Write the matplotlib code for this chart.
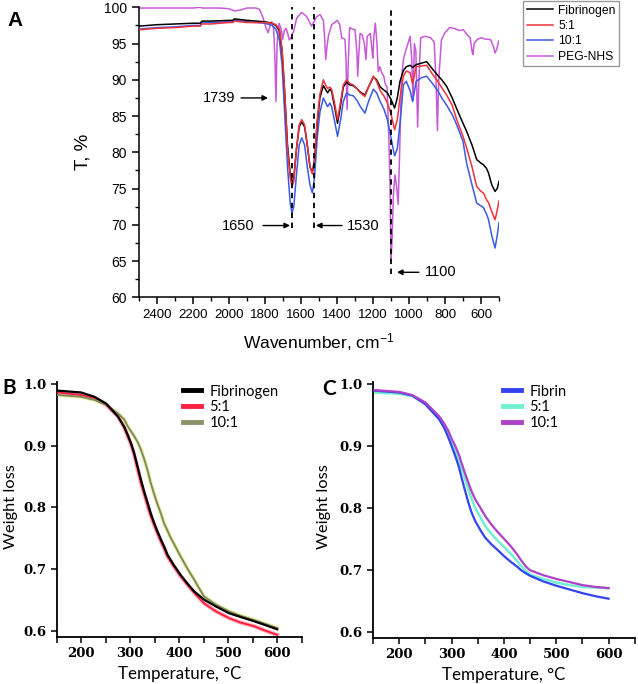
import matplotlib
matplotlib.use('Agg')
import matplotlib.pyplot as plt
from matplotlib.ticker import MultipleLocator
from matplotlib.lines import Line2D

plt.rcParams['mathtext.default'] = 'regular'

# ---------------- Panel A: FTIR data ----------------
wn = [2500, 2400, 2300, 2200, 2160, 2150, 2100, 2000, 1980, 1970, 1900, 1800, 1760, 1740,
      1720, 1705, 1690, 1675, 1660, 1650, 1640, 1625, 1610, 1596, 1580, 1565, 1550, 1537,
      1525, 1510, 1495, 1476, 1462, 1452, 1440, 1430, 1415, 1397, 1380, 1365, 1347, 1330,
      1310, 1290, 1270, 1245, 1225, 1198, 1180, 1160, 1140, 1120, 1100, 1080, 1065, 1050,
      1031, 1015, 994, 980, 960, 930, 902, 870, 840, 818, 791, 760, 735, 700, 680, 650,
      624, 600, 587, 570, 559, 540, 522, 510, 500]
t_fibrinogen = [97.4, 97.6, 97.7, 97.8, 97.8, 98.1, 98.1, 98.2, 98.2, 98.4, 98.2, 98.0, 97.8, 97.5,
                96.8, 94.0, 88.0, 81.0, 77.0, 75.8, 76.5, 80.5, 83.5, 84.2, 83.5, 81.0, 78.0, 77.2,
                79.0, 84.0, 87.5, 89.2, 88.6, 88.2, 88.7, 88.4, 86.5, 84.0, 86.5, 89.0, 89.7, 89.3,
                89.2, 88.8, 88.3, 87.9, 89.0, 90.4, 90.0, 89.0, 88.6, 88.2, 87.3, 86.1, 87.5, 89.8,
                91.3, 91.8, 92.0, 91.7, 92.1, 92.3, 92.5, 91.5, 90.6, 90.0, 89.1, 87.5, 86.0, 84.0,
                82.9, 81.0, 79.0, 78.5, 78.3, 77.8, 77.2, 75.5, 74.6, 75.0, 76.0]
t_51 = [96.9, 97.1, 97.2, 97.4, 97.4, 97.7, 97.7, 97.9, 97.9, 98.1, 97.9, 97.9, 97.8, 97.6,
        97.0, 94.2, 88.0, 80.5, 76.5, 75.3, 76.0, 80.5, 83.8, 84.5, 83.8, 81.0, 78.0, 77.0,
        79.0, 84.5, 88.0, 90.0, 89.2, 88.8, 89.0, 88.7, 87.0, 84.5, 87.0, 89.3, 90.0, 89.5,
        89.3, 88.8, 88.2, 87.7, 89.0, 90.5, 89.8, 88.5, 87.8, 86.8, 85.3, 83.1, 84.5, 87.5,
        90.5, 91.2, 91.0, 89.5, 91.8, 91.9, 92.0, 90.8, 89.8, 88.9, 87.9, 86.5, 84.5, 82.2,
        80.6, 78.0, 75.3, 74.6, 74.4, 73.5, 73.1, 71.8, 70.7, 72.0, 73.3]
t_101 = [97.0, 97.2, 97.3, 97.5, 97.5, 97.9, 97.9, 98.0, 98.0, 98.2, 98.0, 97.8, 97.5, 97.0,
         95.5, 92.0, 85.0, 78.0, 73.0, 71.6, 72.5, 77.0, 81.0, 82.0, 81.0, 78.0, 75.5, 74.4,
         76.5, 82.0, 85.5, 87.5, 86.8, 86.3, 86.8, 86.3, 84.5, 82.2, 84.5, 87.0, 88.2, 87.9,
         87.8, 87.2, 86.3, 85.4, 87.0, 88.7, 88.2, 87.0, 86.0, 84.5, 82.0, 79.5, 80.5, 84.0,
         89.3, 89.8, 88.5, 87.0, 89.8, 90.3, 90.5, 89.5, 88.5, 87.5, 86.5, 85.2, 83.8, 81.5,
         78.5, 75.5, 73.0, 72.6, 72.4, 71.5, 70.8, 68.5, 66.8, 68.5, 70.3]

wn_peg = [2500, 2300, 2200, 2160, 2150, 2050, 2000, 1970, 1940, 1900, 1850, 1830, 1810, 1795,
          1783, 1772, 1763, 1752, 1745, 1739, 1733, 1722, 1710, 1702, 1692, 1683, 1673, 1665,
          1655, 1640, 1624, 1596, 1568, 1541, 1513, 1494, 1476, 1468, 1463, 1456, 1448, 1430,
          1398, 1385, 1374, 1356, 1350, 1344, 1338, 1330, 1315, 1300, 1290, 1285, 1280, 1272,
          1260, 1248, 1239, 1232, 1215, 1205, 1201, 1195, 1187, 1178, 1171, 1162, 1152, 1140,
          1133, 1122, 1112, 1106, 1100, 1094, 1087, 1078, 1070, 1060, 1052, 1042, 1030, 1013,
          994, 985, 978, 970, 962, 952, 945, 935, 910, 880, 860, 850, 842, 835, 820, 800,
          775, 750, 720, 698, 680, 660, 650, 645, 638, 620, 597, 575, 560, 545, 530, 522,
          512, 500]
t_peg = [99.9, 99.9, 99.9, 100.0, 99.9, 99.9, 99.8, 99.5, 99.6, 99.9, 99.9, 99.7, 98.5, 97.2,
         96.5, 97.5, 98.0, 97.0, 93.0, 87.0, 95.0, 97.8, 97.0, 95.6, 96.8, 97.1, 96.3, 95.5,
         95.8, 96.8, 98.5, 99.3, 98.7, 97.4, 98.7, 99.0, 98.2, 95.5, 92.8, 94.5, 96.0, 97.6,
         98.2, 97.6, 95.8, 95.6, 93.0, 85.9, 92.0, 97.2, 97.0, 96.9, 94.0, 90.5, 93.0, 96.4,
         96.2, 95.0, 92.8, 96.0, 96.4, 94.0, 93.0, 96.0, 97.8, 95.0, 91.1, 91.8, 91.0, 90.5,
         89.5, 89.0, 82.0, 76.0, 65.0, 68.0, 74.0, 76.9, 75.5, 72.8, 80.0, 90.0, 93.0, 94.4,
         96.0, 93.0, 87.2, 95.0, 94.0, 83.5, 90.0, 95.8, 96.0, 95.8, 95.2, 90.0, 83.0, 90.0,
         95.5, 96.5, 97.2, 97.1, 96.8, 96.9, 96.3, 95.8, 94.0, 93.5, 95.0, 95.6, 95.8, 95.6,
         95.6, 95.5, 94.5, 93.7, 94.3, 95.4]

ir_labels = ['Fibrinogen', '5:1', '10:1', 'PEG-NHS']
peaks = [1739, 1650, 1530, 1100]

# ---------------- Panel B: TGA fibrinogen ----------------
temp_b = [152, 200, 227, 251, 275, 288, 295, 302, 308, 315, 322, 329, 336, 342, 349, 356,
          363, 370, 376, 390, 403, 417, 431, 451, 475, 502, 525, 553, 575, 600]
wb_fibrinogen = [0.989, 0.986, 0.979, 0.968, 0.947, 0.930, 0.917, 0.903, 0.888, 0.866, 0.844,
                 0.824, 0.806, 0.790, 0.774, 0.760, 0.747, 0.735, 0.723, 0.705, 0.690, 0.676,
                 0.663, 0.650, 0.639, 0.628, 0.622, 0.615, 0.609, 0.602]
wb_51 = [0.986, 0.982, 0.977, 0.966, 0.947, 0.929, 0.915, 0.901, 0.885, 0.862, 0.839,
         0.820, 0.801, 0.786, 0.771, 0.757, 0.744, 0.732, 0.720, 0.703, 0.688, 0.674,
         0.661, 0.644, 0.631, 0.620, 0.613, 0.607, 0.600, 0.593]
temp_b2 = [152, 200, 227, 251, 275, 288, 295, 305, 315, 322, 329, 336, 342, 349, 356, 363,
           369, 376, 383, 393, 403, 417, 431, 441, 451, 475, 502, 525, 553, 575, 600]
wb_101 = [0.982, 0.979, 0.974, 0.966, 0.952, 0.942, 0.931, 0.919, 0.906, 0.893, 0.877,
          0.858, 0.839, 0.821, 0.804, 0.789, 0.774, 0.762, 0.750, 0.735, 0.720, 0.700,
          0.682, 0.668, 0.655, 0.642, 0.631, 0.624, 0.617, 0.611, 0.604]
tga_b_labels = ['Fibrinogen', '5:1', '10:1']

# ---------------- Panel C: TGA fibrin ----------------
temp_c = [153, 200, 225, 250, 276, 286, 294, 300, 307, 314, 320, 326, 332, 338, 345, 355,
          364, 376, 389, 400, 414, 425, 433, 442, 450, 475, 500, 525, 550, 575, 600]
wc_fibrin = [0.989, 0.986, 0.981, 0.967, 0.943, 0.929, 0.913, 0.900, 0.884, 0.866, 0.846,
             0.827, 0.809, 0.793, 0.779, 0.764, 0.752, 0.741, 0.731, 0.722, 0.712, 0.705,
             0.699, 0.694, 0.690, 0.681, 0.674, 0.668, 0.662, 0.657, 0.653]
wc_51 = [0.986, 0.984, 0.980, 0.969, 0.946, 0.933, 0.919, 0.906, 0.892, 0.877, 0.862,
         0.846, 0.830, 0.815, 0.800, 0.785, 0.771, 0.758, 0.746, 0.737, 0.725, 0.714,
         0.706, 0.698, 0.692, 0.685, 0.679, 0.675, 0.672, 0.671, 0.670]
wc_101 = [0.990, 0.987, 0.982, 0.970, 0.948, 0.936, 0.924, 0.912, 0.900, 0.886, 0.870,
          0.855, 0.841, 0.827, 0.814, 0.800, 0.787, 0.773, 0.760, 0.750, 0.737, 0.725,
          0.715, 0.705, 0.699, 0.691, 0.685, 0.680, 0.675, 0.672, 0.670]
tga_c_labels = ['Fibrin', '5:1', '10:1']

# ---------------- Figure ----------------
W, H = 638, 684
fig = plt.figure(figsize=(W / 100, H / 100), dpi=100)


def rect(l, t, r, b):
    return [l / W, 1 - b / H, (r - l) / W, (b - t) / H]


ARIAL = 'Liberation Sans'
CALIBRI = 'Lato'

# ---- Panel A ----
axA = fig.add_axes(rect(139, 7.3, 499, 297.3))
axA.plot(wn, t_fibrinogen, color='black', lw=1.1, label=ir_labels[0], zorder=4)
axA.plot(wn, t_51, color='#f0323c', lw=1.1, label=ir_labels[1], zorder=4)
axA.plot(wn, t_101, color='#3c5ae6', lw=1.1, label=ir_labels[2], zorder=3)
axA.plot(wn_peg, t_peg, color='#c85ad7', lw=1.1, label=ir_labels[3], zorder=2)
axA.set_xlim(2500, 500)
axA.set_ylim(60, 100)
for s in ['top', 'right']:
    axA.spines[s].set_visible(False)
for s in ['left', 'bottom']:
    axA.spines[s].set_linewidth(1.1)
axA.xaxis.set_major_locator(MultipleLocator(200))
axA.xaxis.set_minor_locator(MultipleLocator(100))
axA.yaxis.set_major_locator(MultipleLocator(5))
axA.yaxis.set_minor_locator(MultipleLocator(2.5))
axA.tick_params(which='major', direction='out', length=5, width=1.1)
axA.tick_params(which='minor', direction='out', length=3, width=1.0)
axA.set_xticks(range(2400, 500, -200))
for lab in axA.get_xticklabels():
    lab.set_fontfamily(ARIAL); lab.set_fontsize(9.5)
for lab in axA.get_yticklabels():
    lab.set_fontfamily(ARIAL); lab.set_fontsize(10)
axA.set_xlabel('Wavenumber, cm$^{-1}$', fontfamily=ARIAL, fontsize=12.5, labelpad=7)
axA.set_ylabel('T, %', fontfamily=ARIAL, fontsize=13.5, labelpad=9)

# dashed markers
axA.vlines([peaks[1], peaks[2]], 69.6, 100, colors='black', lw=1.3, linestyles=(0, (3, 2.5)), zorder=5)
axA.vlines([peaks[3]], 63.2, 100, colors='black', lw=1.3, linestyles=(0, (3, 2.5)), zorder=5)

arw = dict(arrowstyle='-|>', color='black', lw=1.0, mutation_scale=8, shrinkA=0, shrinkB=0)
axA.annotate('', xy=(1783, 87.5), xytext=(1933, 87.5), arrowprops=arw)
axA.text(1965, 87.5, '1739', ha='right', va='center', fontfamily=ARIAL, fontsize=10.5)
axA.annotate('', xy=(1661, 69.9), xytext=(1811, 69.9), arrowprops=arw)
axA.text(1860, 69.9, '1650', ha='right', va='center', fontfamily=ARIAL, fontsize=10.5)
axA.annotate('', xy=(1517, 69.9), xytext=(1372, 69.9), arrowprops=arw)
axA.text(1345, 69.9, '1530', ha='left', va='center', fontfamily=ARIAL, fontsize=10.5)
axA.annotate('', xy=(1067, 63.45), xytext=(945, 63.45), arrowprops=arw)
axA.text(912, 63.45, '1100', ha='left', va='center', fontfamily=ARIAL, fontsize=10.5)

legA = fig.legend(handles=axA.get_lines()[:4], loc='upper left',
                  bbox_to_anchor=(523 / W, 1 - 1 / H), borderaxespad=0,
                  prop={'family': ARIAL, 'size': 8.7}, handlelength=2.2,
                  handletextpad=0.4, labelspacing=0.28, borderpad=0.3,
                  fancybox=False, frameon=True)
legA.get_frame().set_edgecolor('#808080')
legA.get_frame().set_linewidth(1.0)

fig.text(15 / W, 1 - 21 / H, 'A', fontfamily=ARIAL, fontweight='bold', fontsize=15,
         ha='center', va='center')


def style_tga(ax):
    ax.set_xlim(150, 650)
    ax.set_ylim(0.59, 1.003)
    for s in ['top', 'right']:
        ax.spines[s].set_visible(False)
    for s in ['left', 'bottom']:
        ax.spines[s].set_linewidth(1.3)
    ax.xaxis.set_major_locator(MultipleLocator(100))
    ax.xaxis.set_minor_locator(MultipleLocator(50))
    ax.set_xticks([200, 300, 400, 500, 600])
    ax.set_yticks([0.6, 0.7, 0.8, 0.9, 1.0])
    ax.set_yticklabels(['0.6', '0.7', '0.8', '0.9', '1.0'])
    ax.tick_params(which='both', direction='out', length=4, width=1.1)
    for lab in ax.get_xticklabels() + ax.get_yticklabels():
        lab.set_fontfamily('DejaVu Serif'); lab.set_fontweight('bold'); lab.set_fontsize(9.5)
    ax.set_xlabel('Temperature, °C', fontfamily=CALIBRI, fontsize=12.2, labelpad=4)


# ---- Panel B ----
axB = fig.add_axes(rect(56.7, 382, 301.7, 636.7))
axB.plot(temp_b, wb_fibrinogen, color='black', lw=1.6, zorder=4)
axB.plot(temp_b, wb_51, color='#ffb0c0', lw=3.0, zorder=2)
axB.plot(temp_b, wb_51, color='#ff2040', lw=1.4, zorder=3)
axB.plot(temp_b2, wb_101, color='#f0f0b0', lw=3.0, zorder=1)
axB.plot(temp_b2, wb_101, color='#7f8a5a', lw=1.4, zorder=3)
style_tga(axB)
hb = [Line2D([], [], color='black', lw=3.5),
      Line2D([], [], color='#ff2040', lw=3.5),
      Line2D([], [], color='#8a9466', lw=3.5)]
axB.legend(hb, tga_b_labels, loc='upper left', bbox_to_anchor=(0.516, 0.99),
           frameon=False, prop={'family': CALIBRI, 'size': 10.5}, handlelength=1.2,
           handletextpad=0.6, labelspacing=0.12, borderaxespad=0, borderpad=0)
fig.text(11 / W, 1 - 507 / H, 'Weight loss', fontfamily=CALIBRI, fontsize=11.8,
         rotation=90, ha='center', va='center')
fig.text(9 / W, 1 - 388 / H, 'B', fontfamily=CALIBRI, fontweight='bold', fontsize=15,
         ha='center', va='center')

# ---- Panel C ----
axC = fig.add_axes(rect(373, 382, 634.7, 637.7))
axC.plot(temp_c, wc_fibrin, color='#3344ee', lw=1.6, zorder=3)
axC.plot(temp_c, wc_51, color='#70f0d0', lw=1.8, zorder=2)
axC.plot(temp_c, wc_101, color='#b040c8', lw=1.6, zorder=4)
style_tga(axC)
hc = [Line2D([], [], color='#3344ee', lw=3.5),
      Line2D([], [], color='#70f0d0', lw=3.5),
      Line2D([], [], color='#b040c8', lw=3.5)]
axC.legend(hc, tga_c_labels, loc='upper left', bbox_to_anchor=(0.497, 0.99),
           frameon=False, prop={'family': CALIBRI, 'size': 10.5}, handlelength=1.2,
           handletextpad=0.6, labelspacing=0.12, borderaxespad=0, borderpad=0)
fig.text(324 / W, 1 - 507 / H, 'Weight loss', fontfamily=CALIBRI, fontsize=11.8,
         rotation=90, ha='center', va='center')
fig.text(329 / W, 1 - 389 / H, 'C', fontfamily=CALIBRI, fontweight='bold', fontsize=15,
         ha='center', va='center')

fig.savefig('out.png', dpi=100)
